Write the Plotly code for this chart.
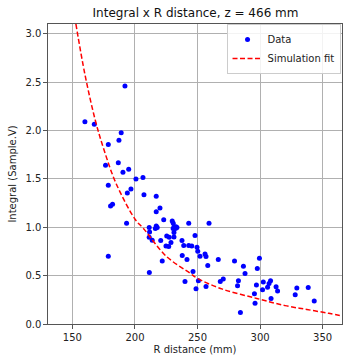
import plotly.graph_objects as go

# Measured data (R distance in mm, integral in Sample.V)
r_data = [160.0, 167.5, 192.0, 189.0, 187.2, 178.7, 176.5, 186.7, 190.4, 195.0,
          200.8, 206.4, 178.7, 196.8, 193.9, 207.2, 217.0, 220.0, 217.0, 182.1,
          180.5, 193.3, 223.0, 229.8, 230.6, 243.0, 259.2, 211.4, 217.0, 217.8,
          216.3, 231.3, 232.8, 230.5, 232.4, 233.6, 211.7, 231.2, 225.4, 227.4,
          248.0, 213.8, 220.6, 224.8, 227.0, 228.8, 237.6, 239.0, 243.0, 245.4,
          249.6, 250.2, 252.0, 256.0, 256.8, 266.6, 237.8, 241.6, 221.8, 246.4,
          258.2, 178.7, 211.5, 240.0, 248.8, 250.7, 256.8, 268.2, 270.6, 279.6,
          286.7, 288.0, 282.7, 282.0, 299.5, 297.8, 297.1, 295.5, 296.0, 284.3,
          302.6, 302.0, 306.0, 307.2, 308.4, 308.8, 312.8, 314.0, 328.1, 329.4,
          338.5, 343.3, 231.2, 211.4]
i_data = [2.09, 2.065, 2.46, 1.975, 1.90, 1.855, 1.64, 1.665, 1.567, 1.598,
          1.498, 1.515, 1.433, 1.395, 1.354, 1.336, 1.32, 1.199, 1.161, 1.237,
          1.22, 1.04, 1.078, 1.065, 1.04, 1.04, 1.04, 0.996, 1.013, 0.996,
          0.986, 1.006, 1.006, 0.988, 0.988, 0.996, 0.95, 0.946, 0.91, 0.897,
          0.915, 0.865, 0.862, 0.807, 0.800, 0.841, 0.862, 0.810, 0.810, 0.807,
          0.792, 0.752, 0.700, 0.723, 0.697, 0.667, 0.707, 0.667, 0.650, 0.542,
          0.604, 0.700, 0.532, 0.438, 0.364, 0.446, 0.388, 0.440, 0.465, 0.650,
          0.598, 0.522, 0.448, 0.395, 0.680, 0.573, 0.403, 0.313, 0.214, 0.118,
          0.433, 0.355, 0.381, 0.418, 0.446, 0.264, 0.386, 0.341, 0.303, 0.371,
          0.377, 0.237, 0.900, 0.897]

# Simulation fit curve
r_fit = [152.8, 160.0, 168.2, 175.0, 185.0, 200.5, 206.6, 225.0, 244.0, 249.4,
         270.0, 297.4, 320.0, 337.4, 355.0, 368.0]
i_fit = [3.10, 2.58, 2.11, 1.81, 1.45, 1.075, 0.99, 0.70, 0.526, 0.475,
         0.36, 0.264, 0.19, 0.150, 0.11, 0.078]

x_ticks = [150, 200, 250, 300, 350]
y_ticks = [0.0, 0.5, 1.0, 1.5, 2.0, 2.5, 3.0]

font = "DejaVu Sans"
fig = go.Figure()
fig.add_trace(go.Scatter(
    x=r_data, y=i_data, mode="markers", name="Data",
    marker=dict(color="#0000ff", size=5, line=dict(width=0)),
))
fig.add_trace(go.Scatter(
    x=r_fit, y=i_fit, mode="lines", name="Simulation fit",
    line=dict(color="#ff0000", width=1.5, dash="5px,2.5px", shape="spline"),
))

axis_common = dict(
    showgrid=True, gridcolor="#b0b0b0", gridwidth=0.8,
    showline=True, linecolor="#555555", linewidth=1.2, mirror=True,
    ticks="outside", ticklen=3.5, tickcolor="#555555", tickwidth=1,
    zeroline=False,
    tickfont=dict(family=font, size=10, color="#222222"),
)
fig.update_xaxes(
    range=[130.5, 365.5], tickvals=x_ticks,
    title=dict(text="R distance (mm)", font=dict(family=font, size=10, color="#222222"), standoff=4),
    **axis_common,
)
fig.update_yaxes(
    range=[0, 3.1], tickvals=y_ticks, tickformat=".1f",
    title=dict(text="Integral (Sample.V)", font=dict(family=font, size=10, color="#222222"), standoff=6),
    **axis_common,
)
fig.update_layout(
    width=343, height=356,
    margin=dict(l=48, r=1, t=24, b=32),
    plot_bgcolor="white", paper_bgcolor="white",
    title=dict(text="Integral x R distance, z = 466 mm", x=0.57, xanchor="center",
               y=0.965, yanchor="middle",
               font=dict(family=font, size=12, color="#111111")),
    legend=dict(x=0.995, y=1.0, xanchor="right", yanchor="top",
                bgcolor="rgba(255,255,255,0.85)", bordercolor="#cccccc", borderwidth=1,
                font=dict(family=font, size=10, color="#222222"),
                itemwidth=30, tracegroupgap=0),
    showlegend=True,
)
fig.write_html("out.html")
